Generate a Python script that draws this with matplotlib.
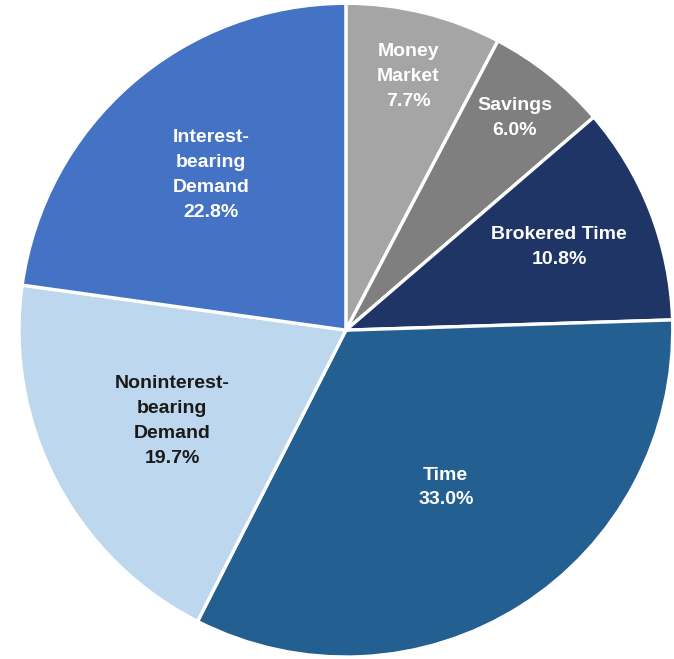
import matplotlib
matplotlib.use("Agg")
import numpy as np
import matplotlib.pyplot as plt

# deposit mix, clockwise from 12 o'clock
categories = ["Money\nMarket", "Savings", "Brokered Time", "Time",
              "Noninterest-\nbearing\nDemand", "Interest-\nbearing\nDemand"]
shares = [7.7, 6.0, 10.8, 33.0, 19.7, 22.8]
colors = ["#a5a5a5", "#7f7f7f", "#1f3566", "#245f91", "#bdd7ee", "#4472c4"]
text_colors = ["white", "white", "white", "white", "#1a1a1a", "white"]
label_radius = [0.80, 0.83, 0.70, 0.57, 0.60, 0.63]

fig = plt.figure(figsize=(6.74, 6.59), dpi=100)
ax = fig.add_axes([0.0282, 0.003, 0.970, 0.992])

wedges, _ = ax.pie(shares, colors=colors, startangle=90, counterclock=False,
                   radius=1.0, wedgeprops=dict(edgecolor="white", linewidth=2.4))

for w, cat, val, tc, r in zip(wedges, categories, shares, text_colors, label_radius):
    mid = np.deg2rad((w.theta1 + w.theta2) / 2)
    ax.text(r * np.cos(mid), r * np.sin(mid), f"{cat}\n{val:.1f}%",
            ha="center", va="center", color=tc, fontsize=14, fontweight="bold",
            family=["Liberation Sans", "DejaVu Sans"], linespacing=1.6)

ax.set_xlim(-1.0, 1.0)
ax.set_ylim(-1.0, 1.0)
ax.set_aspect("equal")
ax.axis("off")

fig.savefig("out.png", dpi=100)
